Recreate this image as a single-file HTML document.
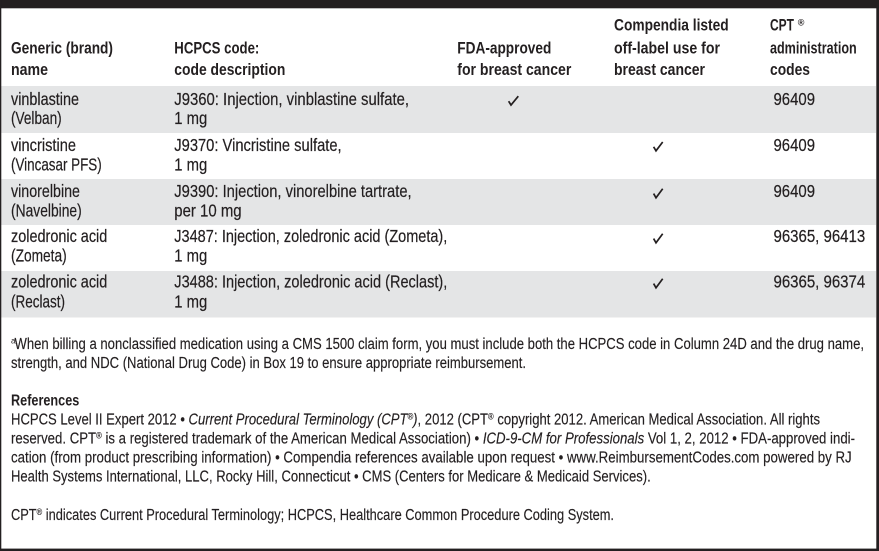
<!DOCTYPE html>
<html><head><meta charset="utf-8"><style>
html,body{margin:0;padding:0;background:#fff;width:879px;height:551px;overflow:hidden}
svg{display:block}
text{font-family:"Liberation Sans Narrow","Liberation Sans",sans-serif;fill:#231f20}
.h{font-weight:bold;font-size:17px}
.b{font-size:17.3px;stroke:#231f20;stroke-width:0.2}
.f{font-size:15.3px;stroke:#231f20;stroke-width:0.15}
.fb{font-size:15.3px;font-weight:bold}
.ck{fill:none;stroke:#231f20;stroke-width:1.7;stroke-linejoin:miter;stroke-linecap:butt}
</style></head><body>
<svg width="879" height="551" viewBox="0 0 879 551" xmlns="http://www.w3.org/2000/svg">
<rect x="0" y="0" width="879" height="551" fill="#fff"/>
<rect x="1" y="86" width="875" height="47" fill="#e4e5e6"/>
<rect x="1" y="179" width="875" height="46" fill="#e4e5e6"/>
<rect x="1" y="271" width="875" height="46.5" fill="#e4e5e6"/>
<rect x="0" y="0" width="879" height="8.3" fill="#231f20"/>
<rect x="0" y="0" width="1.3" height="551" fill="#231f20"/>
<rect x="876.3" y="0" width="2.7" height="551" fill="#231f20"/>
<rect x="0" y="548.6" width="879" height="2.4" fill="#231f20"/>

<text class="h" x="11" y="53.5" textLength="102" lengthAdjust="spacingAndGlyphs">Generic (brand)</text>
<text class="h" x="11" y="75" textLength="37" lengthAdjust="spacingAndGlyphs">name</text>
<text class="h" x="174.3" y="53.5" textLength="85" lengthAdjust="spacingAndGlyphs">HCPCS code:</text>
<text class="h" x="174.3" y="75" textLength="111" lengthAdjust="spacingAndGlyphs">code description</text>
<text class="h" x="457.3" y="53.5" textLength="94" lengthAdjust="spacingAndGlyphs">FDA-approved</text>
<text class="h" x="457.3" y="75" textLength="114" lengthAdjust="spacingAndGlyphs">for breast cancer</text>
<text class="h" x="614" y="30.5" textLength="114.7" lengthAdjust="spacingAndGlyphs">Compendia listed</text>
<text class="h" x="614" y="53.5" textLength="106" lengthAdjust="spacingAndGlyphs">off-label use for</text>
<text class="h" x="614" y="75" textLength="91" lengthAdjust="spacingAndGlyphs">breast cancer</text>
<text class="h" x="770" y="30.5" textLength="24" lengthAdjust="spacingAndGlyphs">CPT</text>
<text x="797.8" y="25.5" style="font-size:9px;font-weight:bold">®</text>
<text class="h" x="770" y="53.5" textLength="86.7" lengthAdjust="spacingAndGlyphs">administration</text>
<text class="h" x="770" y="75" textLength="40" lengthAdjust="spacingAndGlyphs">codes</text>

<text class="b" x="11" y="104.8" textLength="68" lengthAdjust="spacingAndGlyphs">vinblastine</text>
<text class="b" x="11" y="124.2" textLength="50.7" lengthAdjust="spacingAndGlyphs">(Velban)</text>
<text class="b" x="174.3" y="104.8" textLength="234.7" lengthAdjust="spacingAndGlyphs">J9360: Injection, vinblastine sulfate,</text>
<text class="b" x="174.3" y="124.2" textLength="33" lengthAdjust="spacingAndGlyphs">1 mg</text>
<path class="ck" d="M508.6,101.2 L511,105 L518.3,96.2"/>
<text class="b" x="773.5" y="104.8" textLength="41.5" lengthAdjust="spacingAndGlyphs">96409</text>

<text class="b" x="11" y="151" textLength="65" lengthAdjust="spacingAndGlyphs">vincristine</text>
<text class="b" x="11" y="170.4" textLength="90.7" lengthAdjust="spacingAndGlyphs">(Vincasar PFS)</text>
<text class="b" x="174.3" y="151" textLength="167.3" lengthAdjust="spacingAndGlyphs">J9370: Vincristine sulfate,</text>
<text class="b" x="174.3" y="170.4" textLength="33" lengthAdjust="spacingAndGlyphs">1 mg</text>
<path class="ck" d="M653.6,146.8 L656,150.8 L662.7,142"/>
<text class="b" x="773.5" y="151" textLength="41.5" lengthAdjust="spacingAndGlyphs">96409</text>

<text class="b" x="11" y="196.8" textLength="69" lengthAdjust="spacingAndGlyphs">vinorelbine</text>
<text class="b" x="11" y="216.6" textLength="70.7" lengthAdjust="spacingAndGlyphs">(Navelbine)</text>
<text class="b" x="174.3" y="196.8" textLength="237.3" lengthAdjust="spacingAndGlyphs">J9390: Injection, vinorelbine tartrate,</text>
<text class="b" x="174.3" y="216.6" textLength="67.3" lengthAdjust="spacingAndGlyphs">per 10 mg</text>
<path class="ck" d="M653.6,193.6 L656,197.8 L662.7,188.8"/>
<text class="b" x="773.5" y="196.8" textLength="41.5" lengthAdjust="spacingAndGlyphs">96409</text>

<text class="b" x="11" y="241.8" textLength="96.3" lengthAdjust="spacingAndGlyphs">zoledronic acid</text>
<text class="b" x="11" y="261.6" textLength="55.7" lengthAdjust="spacingAndGlyphs">(Zometa)</text>
<text class="b" x="174.3" y="241.8" textLength="273" lengthAdjust="spacingAndGlyphs">J3487: Injection, zoledronic acid (Zometa),</text>
<text class="b" x="174.3" y="261.6" textLength="33" lengthAdjust="spacingAndGlyphs">1 mg</text>
<path class="ck" d="M653.6,238.6 L656,242.8 L662.7,233.8"/>
<text class="b" x="773.5" y="241.8" textLength="91.7" lengthAdjust="spacingAndGlyphs">96365, 96413</text>

<text class="b" x="11" y="287.6" textLength="96.3" lengthAdjust="spacingAndGlyphs">zoledronic acid</text>
<text class="b" x="11" y="307.3" textLength="54" lengthAdjust="spacingAndGlyphs">(Reclast)</text>
<text class="b" x="174.3" y="287.6" textLength="273" lengthAdjust="spacingAndGlyphs">J3488: Injection, zoledronic acid (Reclast),</text>
<text class="b" x="174.3" y="307.3" textLength="33" lengthAdjust="spacingAndGlyphs">1 mg</text>
<path class="ck" d="M653.6,283.6 L656,287.8 L662.7,278.8"/>
<text class="b" x="773.5" y="287.6" textLength="91.7" lengthAdjust="spacingAndGlyphs">96365, 96374</text>

<text x="11" y="343.6" style="font-size:8px">a</text>
<text class="f" x="14.5" y="349" textLength="849.5" lengthAdjust="spacingAndGlyphs">When billing a nonclassified medication using a CMS 1500 claim form, you must include both the HCPCS code in Column 24D and the drug name,</text>
<text class="f" x="11" y="367.8" textLength="515" lengthAdjust="spacingAndGlyphs">strength, and NDC (National Drug Code) in Box 19 to ensure appropriate reimbursement.</text>

<text class="fb" x="11" y="405.7" textLength="68.3" lengthAdjust="spacingAndGlyphs">References</text>
<text class="f" x="11" y="424.5" textLength="809" lengthAdjust="spacingAndGlyphs">HCPCS Level II Expert 2012 • <tspan font-style="italic">Current Procedural Terminology (CPT</tspan><tspan font-style="italic" font-size="9" dy="-5">®</tspan><tspan font-style="italic" dy="5">)</tspan>, 2012 (CPT<tspan font-size="9" dy="-5">®</tspan><tspan dy="5"> copyright 2012.  American Medical Association. All rights</tspan></text>
<text class="f" x="11" y="443.5" textLength="844" lengthAdjust="spacingAndGlyphs">reserved. CPT<tspan font-size="9" dy="-5">®</tspan><tspan dy="5"> is a registered trademark of the American Medical Association) • </tspan><tspan font-style="italic">ICD-9-CM for Professionals</tspan> Vol 1, 2, 2012 • FDA-approved indi-</text>
<text class="f" x="11" y="462.5" textLength="840.7" lengthAdjust="spacingAndGlyphs">cation (from product prescribing information) • Compendia references available upon request • www.ReimbursementCodes.com powered by RJ</text>
<text class="f" x="11" y="481.5" textLength="639.7" lengthAdjust="spacingAndGlyphs">Health Systems International, LLC, Rocky Hill, Connecticut • CMS (Centers for Medicare &amp; Medicaid Services).</text>

<text class="f" x="11" y="520" textLength="603" lengthAdjust="spacingAndGlyphs">CPT<tspan font-size="9" dy="-5">®</tspan><tspan dy="5"> indicates Current Procedural Terminology; HCPCS, Healthcare Common Procedure Coding System.</tspan></text>
</svg>
</body></html>
